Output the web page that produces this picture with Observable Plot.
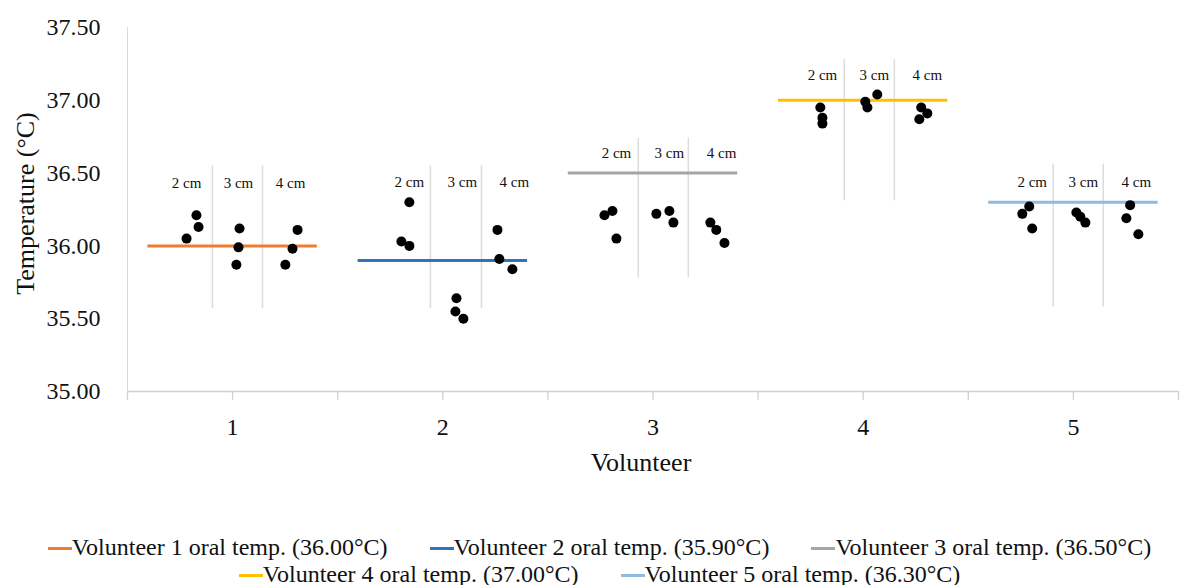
<!DOCTYPE html>
<html>
<head>
<meta charset="utf-8">
<script src="https://cdn.jsdelivr.net/npm/d3@7"></script>
<script src="https://cdn.jsdelivr.net/npm/@observablehq/plot@0.6"></script>
<style>
  html, body { margin: 0; padding: 0; background: #fff; }
  body { width: 1199px; height: 585px; overflow: hidden; font-family: "Liberation Serif", serif; }
  #chart svg { display: block; }
  #legend { margin-top: 39px; font-family: "Liberation Serif", serif; font-size: 24px; color: #111; }
  .row { display: flex; justify-content: center; align-items: center; height: 27px; line-height: 27px; white-space: nowrap; }
  .item { display: flex; align-items: center; margin: 0 21px; }
  .sw { display: inline-block; width: 24px; height: 3px; margin-top: 2px; }
</style>
</head>
<body>
<div id="chart"></div>
<div id="legend"></div>
<script>
// ---- Data ----
const volunteers = [1, 2, 3, 4, 5];
const oralTemps = [36.00, 35.90, 36.50, 37.00, 36.30];
const lineColors = ["#ED7D31", "#2E75B6", "#A5A5A5", "#FFC000", "#8DBBE3"];
const depths = ["2 cm", "3 cm", "4 cm"];
const yTicks = [35.0, 35.5, 36.0, 36.5, 37.0, 37.5];

// skin temperature readings per volunteer, one array per depth (2, 3, 4 cm)
const tempsV1 = [[36.05, 36.21, 36.13], [36.12, 35.99, 35.87], [36.11, 35.98, 35.87]];
const tempsV2 = [[36.30, 36.03, 36.00], [35.64, 35.55, 35.50], [36.11, 35.91, 35.84]];
const tempsV3 = [[36.21, 36.24, 36.05], [36.22, 36.24, 36.16], [36.16, 36.11, 36.02]];
const tempsV4 = [[36.95, 36.88, 36.84], [36.99, 36.95, 37.04], [36.95, 36.91, 36.87]];
const tempsV5 = [[36.22, 36.27, 36.12], [36.23, 36.20, 36.16], [36.28, 36.19, 36.08]];

// scatter x values of those readings
const xValsV1 = [[0.781, 0.828, 0.838], [1.033, 1.028, 1.018], [1.309, 1.285, 1.251]];
const xValsV2 = [[1.841, 1.803, 1.841], [2.065, 2.060, 2.098], [2.260, 2.269, 2.331]];
const xValsV3 = [[2.769, 2.807, 2.826], [3.016, 3.078, 3.097], [3.273, 3.301, 3.340]];
const xValsV4 = [[3.796, 3.806, 3.806], [4.010, 4.020, 4.067], [4.276, 4.305, 4.267]];
const xValsV5 = [[4.757, 4.790, 4.804], [5.014, 5.033, 5.057], [5.270, 5.252, 5.309]];

// depth annotation: separator x values, vertical extent, label x / y values
const sepX = [[0.904, 1.142], [1.941, 2.184], [2.930, 3.168], [3.910, 4.148], [4.904, 5.142]];
const sepTop = [36.55, 36.55, 36.74, 37.28, 36.56];
const sepBottom = [35.57, 35.57, 35.78, 36.31, 35.58];
const labelX = [[0.781, 1.028, 1.276], [1.841, 2.093, 2.340], [2.826, 3.078, 3.326], [3.806, 4.053, 4.305], [4.804, 5.047, 5.299]];
const labelY = [36.43, 36.44, 36.64, 37.17, 36.44];

// ---- Build tables ----
const allTemps = [tempsV1, tempsV2, tempsV3, tempsV4, tempsV5];
const allX = [xValsV1, xValsV2, xValsV3, xValsV4, xValsV5];
const points = [];
allTemps.forEach((vt, vi) => vt.forEach((arr, di) => arr.forEach((t, k) => {
  points.push({volunteer: volunteers[vi], depth: depths[di], temp: t, x: allX[vi][di][k]});
})));
const oral = volunteers.map((v, i) => ({volunteer: v, temp: oralTemps[i], color: lineColors[i], x1: v - 0.403, x2: v + 0.403}));
const seps = [];
sepX.forEach((pair, i) => pair.forEach(x => seps.push({x, top: sepTop[i], bottom: sepBottom[i]})));
const labels = [];
labelX.forEach((xs, i) => xs.forEach((x, di) => labels.push({x, y: labelY[i], text: depths[di]})));
const halfTicks = d3.range(0.5, 5.51, 0.5);

const chart = Plot.plot({
  width: 1199,
  height: 495,
  marginLeft: 127,
  marginRight: 21,
  marginTop: 27,
  marginBottom: 104,
  style: {fontFamily: "Liberation Serif, serif", background: "#fff", color: "#111", overflow: "visible"},
  x: {domain: [0.5, 5.5], axis: null},
  y: {domain: [35, 37.5], axis: null},
  color: {type: "identity"},
  marks: [
    Plot.ruleX([0.5], {stroke: "#d9d9d9", strokeWidth: 1}),
    Plot.axisY({ticks: yTicks, tickSize: 0, tickPadding: 27, tickFormat: d => d.toFixed(2), fontSize: 24, label: null}),
    Plot.axisX({ticks: halfTicks, tickSize: 9, tickFormat: () => "", stroke: "#d0d0d0", strokeWidth: 1.3, label: null}),
    Plot.axisX({ticks: volunteers, tickSize: 0, tickPadding: 26, tickFormat: d => String(d), fontSize: 24, label: null}),
    Plot.ruleY([35], {stroke: "#d0d0d0", strokeWidth: 1.5}),
    Plot.ruleX(seps, {x: "x", y1: "top", y2: "bottom", stroke: "#dcdcdc", strokeWidth: 1.5}),
    Plot.ruleY(oral, {y: "temp", x1: "x1", x2: "x2", stroke: "color", strokeWidth: 3}),
    Plot.text(labels, {x: "x", y: "y", text: "text", fontSize: 15, fill: "#111"}),
    Plot.dot(points, {x: "x", y: "temp", r: 5, fill: "#000"}),
    Plot.text(["Volunteer"], {frameAnchor: "bottom", textAnchor: "middle", dx: -12, dy: 79, fontSize: 26, fill: "#111"}),
    Plot.text(["Temperature (°C)"], {frameAnchor: "left", textAnchor: "middle", rotate: -90, dx: -102, dy: -6, fontSize: 26, fill: "#111"})
  ]
});
document.getElementById("chart").appendChild(chart);

// ---- Legend ----
const legend = document.getElementById("legend");
const rows = [[0, 1, 2], [3, 4]];
rows.forEach(r => {
  const row = document.createElement("div");
  row.className = "row";
  r.forEach(i => {
    const item = document.createElement("div");
    item.className = "item";
    const sw = document.createElement("span");
    sw.className = "sw";
    sw.style.background = lineColors[i];
    const tx = document.createElement("span");
    tx.textContent = `Volunteer ${volunteers[i]} oral temp. (${oralTemps[i].toFixed(2)}°C)`;
    item.appendChild(sw);
    item.appendChild(tx);
    row.appendChild(item);
  });
  legend.appendChild(row);
});
</script>
</body>
</html>
